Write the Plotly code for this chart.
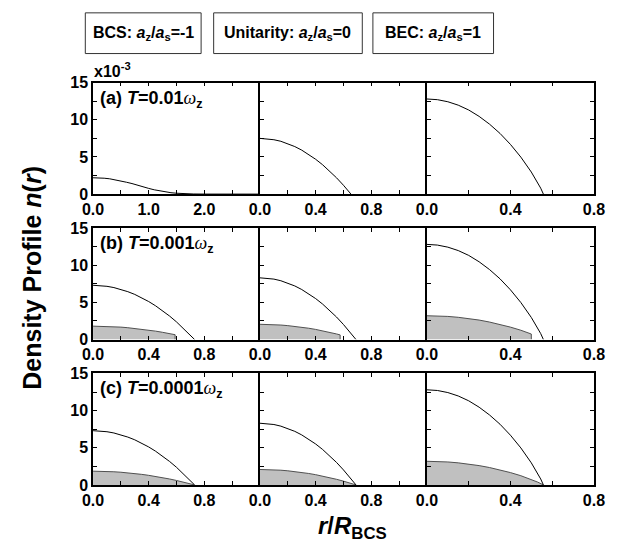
import plotly.graph_objects as go

W, H = 630, 555

# ---- density profiles n(r), in units of 1e-3 ----
# (a) T = 0.01 wz : total density only
r_a_bcs = [0.0, 0.1, 0.2, 0.3, 0.4, 0.5, 0.6, 0.7, 0.8, 0.9, 1.0, 1.1, 1.2,
           1.3, 1.4, 1.5, 1.6, 1.7, 1.8, 2.0, 2.5, 3.0]
n_a_bcs = [2.20, 2.19, 2.14, 2.06, 1.94, 1.78, 1.60, 1.42, 1.18, 0.97, 0.77,
           0.58, 0.42, 0.29, 0.19, 0.12, 0.07, 0.04, 0.02, 0.005, 0.0, 0.0]
r_a_uni = [0.0, 0.05, 0.1, 0.15, 0.2, 0.25, 0.3, 0.35, 0.4, 0.45, 0.5, 0.55, 0.6, 0.654]
n_a_uni = [7.50, 7.46, 7.32, 7.11, 6.80, 6.40, 5.92, 5.35, 4.69, 3.95, 3.12, 2.20, 1.19, 0.0]

# total density, T = 0.001 wz and T = 0.0001 wz
r_bcs = [0.0, 0.05, 0.1, 0.15, 0.2, 0.25, 0.3, 0.35, 0.4, 0.45, 0.5, 0.55, 0.6, 0.65, 0.7, 0.73]
n_bcs = [7.30, 7.27, 7.16, 6.99, 6.75, 6.44, 6.07, 5.62, 5.11, 4.53, 3.88, 3.16, 2.37, 1.51, 0.59, 0.0]
r_uni = [0.0, 0.05, 0.1, 0.15, 0.2, 0.25, 0.3, 0.35, 0.4, 0.45, 0.5, 0.55, 0.6, 0.65, 0.69]
n_uni = [8.30, 8.26, 8.13, 7.91, 7.60, 7.21, 6.73, 6.16, 5.51, 4.77, 3.94, 3.03, 2.02, 0.93, 0.0]
r_bec = [0.0, 0.05, 0.1, 0.15, 0.2, 0.25, 0.3, 0.35, 0.4, 0.45, 0.5, 0.53, 0.545, 0.558]
n_bec = [12.80, 12.71, 12.43, 11.97, 11.32, 10.46, 9.41, 8.17, 6.69, 4.98, 2.97, 1.58, 0.80, 0.0]

# (b) T = 0.001 wz : shaded component (ends with a step down to zero)
r_b_bcs_s = [0.0, 0.05, 0.1, 0.15, 0.2, 0.25, 0.3, 0.35, 0.4, 0.45, 0.5, 0.55, 0.59]
n_b_bcs_s = [1.80, 1.79, 1.77, 1.73, 1.67, 1.59, 1.50, 1.40, 1.27, 1.13, 0.97, 0.80, 0.65]
r_b_uni_s = [0.0, 0.05, 0.1, 0.15, 0.2, 0.25, 0.3, 0.35, 0.4, 0.45, 0.5, 0.55, 0.576]
n_b_uni_s = [2.05, 2.04, 2.01, 1.95, 1.87, 1.78, 1.66, 1.52, 1.36, 1.18, 0.98, 0.75, 0.62]
r_b_bec_s = [0.0, 0.05, 0.1, 0.15, 0.2, 0.25, 0.3, 0.35, 0.4, 0.45, 0.5]
n_b_bec_s = [3.20, 3.18, 3.11, 2.99, 2.83, 2.62, 2.35, 2.04, 1.67, 1.25, 0.74]

# (c) T = 0.0001 wz : shaded component
r_c_bcs_s = [0.0, 0.05, 0.1, 0.15, 0.2, 0.25, 0.3, 0.35, 0.4, 0.45, 0.5, 0.55, 0.6, 0.65, 0.7, 0.73]
n_c_bcs_s = [1.85, 1.84, 1.81, 1.77, 1.71, 1.63, 1.54, 1.42, 1.29, 1.15, 0.98, 0.80, 0.60, 0.38, 0.15, 0.0]
r_c_uni_s = [0.0, 0.05, 0.1, 0.15, 0.2, 0.25, 0.3, 0.35, 0.4, 0.45, 0.5, 0.55, 0.6, 0.65, 0.69]
n_c_uni_s = [2.08, 2.07, 2.04, 1.98, 1.90, 1.81, 1.69, 1.54, 1.38, 1.20, 0.99, 0.76, 0.51, 0.23, 0.0]
r_c_bec_s = [0.0, 0.05, 0.1, 0.15, 0.2, 0.25, 0.3, 0.35, 0.4, 0.45, 0.5, 0.53, 0.558]
n_c_bec_s = [3.18, 3.16, 3.09, 2.97, 2.81, 2.60, 2.34, 2.03, 1.66, 1.24, 0.74, 0.39, 0.0]

# ---- ticks: labelled values and unlabelled minor positions ----
xt_wide_vals = [0.0, 1.0, 2.0]
xt_wide_text = ["0.0", "1.0", "2.0"]
xt_wide_minor = [0.5, 1.5, 2.5]
xt_mid_vals = [0.0, 0.4, 0.8]
xt_mid_text = ["0.0", "0.4", "0.8"]
xt_mid_minor = [0.2, 0.6, 1.0]
xt_bec_vals = [0.0, 0.4, 0.8]
xt_bec_text = ["0.0", "0.4", "0.8"]
xt_bec_minor = [0.2, 0.6]
yt_vals = [0, 5, 10, 15]
yt_text = ["0", "5", "10", "15"]
yt_minor = [2.5, 7.5, 12.5]

OMEGA = '<span style="font-family:Liberation Serif, serif;font-weight:normal"><i>ω</i></span>'
headers = ["BCS: <i>a</i><sub>z</sub>/<i>a</i><sub>s</sub>=-1",
           "Unitarity: <i>a</i><sub>z</sub>/<i>a</i><sub>s</sub>=0",
           "BEC: <i>a</i><sub>z</sub>/<i>a</i><sub>s</sub>=1"]
row_labels = ["(a) <i>T</i>=0.01" + OMEGA + "<sub>z</sub>",
              "(b) <i>T</i>=0.001" + OMEGA + "<sub>z</sub>",
              "(c) <i>T</i>=0.0001" + OMEGA + "<sub>z</sub>"]

# ---- layout geometry (pixels) ----
col_px = [(85, 258), (258, 431), (431, 604)]
row_px = [(77, 192), (227, 342), (377, 492)]
header_px = [(77, 197), (210, 364), (375, 500)]
header_y = (5, 47)

FONT = "Liberation Sans, Arial, sans-serif"
FILL = "#c0c0c0"
EDGE = "#505050"

# panel contents: (row, col, total curve, shaded curve, step-down at end)
panels = [
    (0, 0, (r_a_bcs, n_a_bcs), None, False),
    (0, 1, (r_a_uni, n_a_uni), None, False),
    (0, 2, (r_bec, n_bec), None, False),
    (1, 0, (r_bcs, n_bcs), (r_b_bcs_s, n_b_bcs_s), True),
    (1, 1, (r_uni, n_uni), (r_b_uni_s, n_b_uni_s), True),
    (1, 2, (r_bec, n_bec), (r_b_bec_s, n_b_bec_s), True),
    (2, 0, (r_bcs, n_bcs), (r_c_bcs_s, n_c_bcs_s), False),
    (2, 1, (r_uni, n_uni), (r_c_uni_s, n_c_uni_s), False),
    (2, 2, (r_bec, n_bec), (r_c_bec_s, n_c_bec_s), False),
]

fig = go.Figure()
layout_axes = {}

for i, (row, col, total, shaded, step) in enumerate(panels):
    k = i + 1
    xa = "x" if k == 1 else f"x{k}"
    ya = "y" if k == 1 else f"y{k}"
    xname = "xaxis" if k == 1 else f"xaxis{k}"
    yname = "yaxis" if k == 1 else f"yaxis{k}"

    if shaded is not None:
        rs, ns = list(shaded[0]), list(shaded[1])
        if step:
            rs = rs + [rs[-1]]
            ns = ns + [0.0]
        fig.add_trace(go.Scatter(x=rs, y=ns, mode="lines", fill="tozeroy",
                                 fillcolor=FILL, line=dict(color=EDGE, width=1),
                                 xaxis=xa, yaxis=ya, showlegend=False,
                                 hoverinfo="skip"))
    fig.add_trace(go.Scatter(x=total[0], y=total[1], mode="lines",
                             line=dict(color="black", width=1),
                             xaxis=xa, yaxis=ya, showlegend=False))

    if row == 0 and col == 0:
        xr, xv, xt, xm = [0, 3.0], xt_wide_vals, xt_wide_text, xt_wide_minor
    elif col == 2:
        xr, xv, xt, xm = [0, 0.8], xt_bec_vals, xt_bec_text, xt_bec_minor
    else:
        xr, xv, xt, xm = [0, 1.2], xt_mid_vals, xt_mid_text, xt_mid_minor

    x0, x1 = col_px[col]
    y0, y1 = row_px[row]
    common = dict(showline=True, linecolor="black", linewidth=1.5,
                  ticks="inside", ticklen=4, tickwidth=1, tickcolor="black",
                  showgrid=False, zeroline=False, fixedrange=True,
                  tickfont=dict(family=FONT, size=16, color="black", weight="bold"))
    layout_axes[xname] = dict(domain=[x0 / W, x1 / W], range=xr, tickmode="array",
                              tickvals=xv, ticktext=xt, anchor=ya, mirror="ticks",
                              minor=dict(tickmode="array", tickvals=xm, ticks="inside",
                                         ticklen=4, tickwidth=1, tickcolor="black",
                                         showgrid=False),
                              **common)
    # only the last column closes its right edge; neighbours share one divider line
    layout_axes[yname] = dict(domain=[1 - y1 / H, 1 - y0 / H], range=[0, 15],
                              tickmode="array", tickvals=yt_vals, ticktext=yt_text,
                              showticklabels=(col == 0),
                              anchor=xa, mirror="ticks" if col == 2 else False,
                              minor=dict(tickmode="array", tickvals=yt_minor, ticks="inside",
                                         ticklen=4, tickwidth=1, tickcolor="black",
                                         showgrid=False),
                              **common)

fig.update_layout(**layout_axes)

shapes = []
annotations = []
for (hx0, hx1), txt in zip(header_px, headers):
    shapes.append(dict(type="rect", xref="paper", yref="paper",
                       x0=hx0 / W, x1=hx1 / W,
                       y0=1 - header_y[1] / H, y1=1 - header_y[0] / H,
                       line=dict(color="#333333", width=1)))
    annotations.append(dict(text=txt, xref="paper", yref="paper",
                            x=(hx0 + hx1) / 2 / W, y=1 - (header_y[0] + header_y[1]) / 2 / H,
                            xanchor="center", yanchor="middle", showarrow=False,
                            font=dict(family=FONT, size=16, color="black", weight="bold")))

for (ry0, ry1), txt in zip(row_px, row_labels):
    annotations.append(dict(text=txt, xref="paper", yref="paper",
                            x=90 / W, y=1 - (ry0 + 17) / H,
                            xanchor="left", yanchor="middle", showarrow=False,
                            font=dict(family=FONT, size=18, color="black", weight="bold")))

annotations.append(dict(text="x10<sup>-3</sup>", xref="paper", yref="paper",
                        x=84 / W, y=1 - 76 / H, xanchor="left", yanchor="bottom",
                        showarrow=False,
                        font=dict(family=FONT, size=16, color="black", weight="bold")))

annotations.append(dict(text="Density Profile <i>n</i>(<i>r</i>)", xref="paper", yref="paper",
                        x=22 / W, y=1 - 278 / H, xanchor="center", yanchor="middle",
                        textangle=-90, showarrow=False,
                        font=dict(family=FONT, size=25, color="black", weight="bold")))

annotations.append(dict(text="<i>r</i>/<i>R</i><sub>BCS</sub>", xref="paper", yref="paper",
                        x=354 / W, y=1 - 536 / H, xanchor="center", yanchor="middle",
                        showarrow=False,
                        font=dict(family=FONT, size=24, color="black", weight="bold")))

fig.update_layout(width=W, height=H, autosize=False,
                  margin=dict(l=0, r=0, t=0, b=0),
                  paper_bgcolor="white", plot_bgcolor="white",
                  shapes=shapes, annotations=annotations, showlegend=False)

# page body without default browser margin so the figure fills the window
fig.write_html("out.html", post_script="document.body.style.margin='0px';")
